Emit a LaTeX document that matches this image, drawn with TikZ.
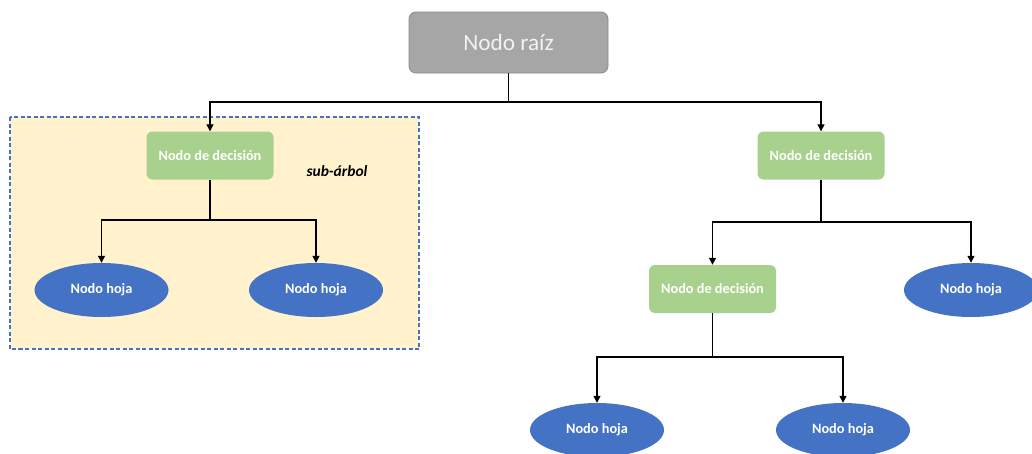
\documentclass[tikz,border=0pt]{standalone}
\usepackage{fontspec}
\setmainfont{Carlito}
\usetikzlibrary{shapes.geometric,arrows.meta}
\definecolor{rootgray}{HTML}{A6A6A6}
\definecolor{rootedge}{HTML}{8A8A8A}
\definecolor{decgreen}{HTML}{A9D18E}
\definecolor{leafblue}{HTML}{4472C4}
\definecolor{subfill}{HTML}{FFF2CC}
\tikzset{
  rootbox/.style={rectangle, rounded corners=7pt, fill=rootgray, draw=rootedge, line width=0.8pt,
    minimum width=199pt, minimum height=61pt, text=white!95!black, font=\fontsize{23.3}{25}\selectfont, inner sep=0pt},
  decbox/.style={rectangle, rounded corners=6pt, fill=decgreen, draw=none,
    minimum width=127pt, minimum height=48pt, text=white, font=\fontsize{14.3}{16}\selectfont\bfseries, inner sep=0pt},
  leaf/.style={ellipse, fill=leafblue, draw=none, minimum width=134pt, minimum height=54pt,
    text=white, font=\fontsize{14.3}{16}\selectfont\bfseries, inner sep=0pt},
  conn/.style={line width=1.3pt, -{Triangle[length=7pt,width=7pt]}},
  trunk/.style={line width=1.3pt},
}
\begin{document}
\begin{tikzpicture}[x=1pt,y=-1pt]
\useasboundingbox (0,0) rectangle (1032,453);
\fill[white] (0,0) rectangle (1032,453);
% sub-tree frame
\draw[fill=subfill, draw=leafblue, line width=1.3pt, dash pattern=on 4pt off 2.5pt] (10,117) rectangle (419,349);
\node[font=\fontsize{15.5}{17}\selectfont\bfseries\itshape] (sublbl) at (337,171) {sub-árbol};

% nodes
\node[rootbox] (root) at (508.5,42.5) {Nodo raíz};
\node[decbox] (d1) at (210,155.5) {Nodo de decisión};
\node[decbox] (d2) at (821,155.5) {Nodo de decisión};
\node[decbox] (d3) at (712.5,289) {Nodo de decisión};
\node[leaf] (l1) at (101.5,290) {Nodo hoja};
\node[leaf] (l2) at (316,290) {Nodo hoja};
\node[leaf] (l3) at (971,290) {Nodo hoja};
\node[leaf] (l4) at (597,430) {Nodo hoja};
\node[leaf] (l5) at (843,430) {Nodo hoja};

% branch points
\coordinate (b0) at (508.5,102);
\coordinate (b1) at (210,220);
\coordinate (b2) at (821,222);
\coordinate (b3) at (712.5,357);

% connectors
\draw[trunk] (root.south) -- (b0);
\draw[conn] (b0) -| (d1.north);
\draw[conn] (b0) -| (d2.north);
\draw[trunk] (d1.south) -- (b1);
\draw[conn] (b1) -| (l1.north);
\draw[conn] (b1) -| (l2.north);
\draw[trunk] (d2.south) -- (b2);
\draw[conn] (b2) -| (d3.north);
\draw[conn] (b2) -| (l3.north);
\draw[trunk] (d3.south) -- (b3);
\draw[conn] (b3) -| (l4.north);
\draw[conn] (b3) -| (l5.north);
\end{tikzpicture}
\end{document}
